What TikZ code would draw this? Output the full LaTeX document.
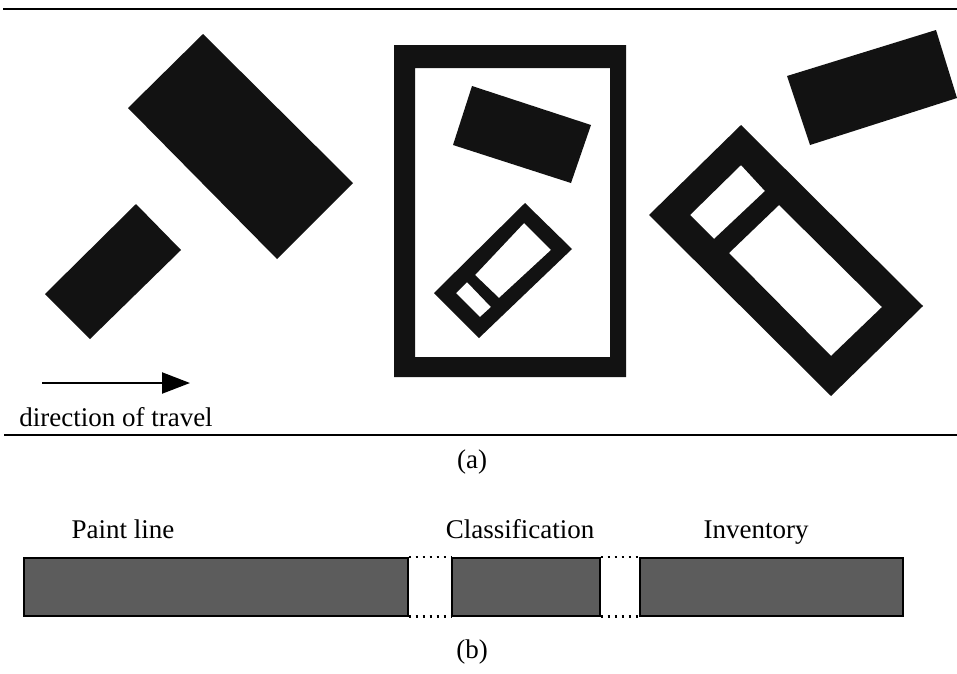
\documentclass[tikz,border=0pt]{standalone}
\usepackage{fontspec}
\setmainfont{Liberation Serif}
\usetikzlibrary{arrows.meta}
\begin{document}
\begin{tikzpicture}[x=1pt,y=-1pt,
  lbl/.style={inner sep=0pt,anchor=base,font=\fontsize{27}{32}\selectfont},
  rule/.style={line width=2pt,black},
  solid/.style={fill=black!93},
  bar/.style={draw=black,line width=1.5pt,fill=black!64,inner sep=0pt,minimum height=58pt,anchor=north west},
  gap/.style={line width=2.2pt,dash pattern=on 2pt off 5pt,black}]
\useasboundingbox (0,0) rectangle (957,673);
% rules of panel (a)
\draw[rule] (3,9) -- (957,9);
\draw[rule] (4,435) -- (957,435);
% left objects
\fill[solid] (203,34) -- (353,183) -- (277,259) -- (128,108) -- cycle;
\fill[solid] (136,204) -- (181,250) -- (90,339) -- (45,294) -- cycle;
% middle frame
\fill[solid,even odd rule] (394,45) rectangle (626,377) (415,68) rectangle (610,357);
\fill[solid] (472,86) -- (591,125) -- (571,183) -- (453,145) -- cycle;
\fill[solid,even odd rule] (525,203) -- (572,249) -- (479,338) -- (434,293) -- cycle
  (524,223) -- (551,250) -- (499,298) -- (475,275) -- cycle
  (467,282) -- (491,307) -- (480,317) -- (456,293) -- cycle;
% right objects
\fill[solid,even odd rule] (741,125) -- (923,306) -- (831,396) -- (649,215) -- cycle
  (779,205) -- (882,307) -- (831,356) -- (729,253) -- cycle
  (741,165) -- (765,191) -- (714,239) -- (690,215) -- cycle;
\fill[solid] (787,76) -- (936,30) -- (957,98) -- (810,145) -- cycle;
% direction arrow
\coordinate (arrS) at (42,383);
\coordinate (arrE) at (190,383);
\draw[line width=2.2pt,-{Triangle[length=28pt,width=21pt]}] (arrS) -- (arrE);
\node[lbl] (dir) at (116,426) {direction of travel};
\node[lbl] (capa) at (472,468) {(a)};
% panel (b)
\node[lbl] (tp) at (123,538) {Paint line};
\node[lbl] (tc) at (520,538) {Classification};
\node[lbl] (ti) at (756,538) {Inventory};
\node[bar,minimum width=384pt] (p) at (23,557) {};
\node[bar,minimum width=148pt] (c) at (451,557) {};
\node[bar,minimum width=263pt] (i) at (639,557) {};
\draw[gap] (p.north east) -- (c.north west);
\draw[gap] (p.south east) -- (c.south west);
\draw[gap] (c.north east) -- (i.north west);
\draw[gap] (c.south east) -- (i.south west);
\node[lbl] (capb) at (472,658) {(b)};
\end{tikzpicture}
\end{document}
